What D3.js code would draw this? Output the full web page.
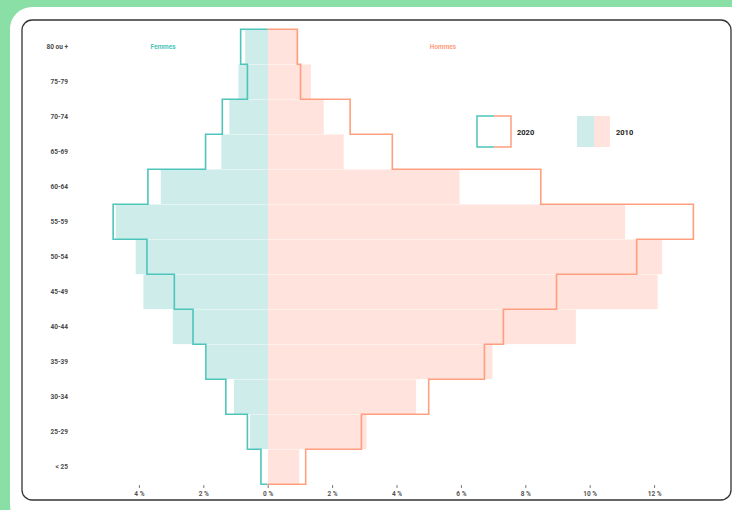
<!DOCTYPE html>
<html>
<head>
<script src="https://d3js.org/d3.v7.min.js"></script>
<style>
    body { margin: 0; background: #89dfa6; }
    svg { display: block; }
    .lbl { font-family: Roboto, sans-serif; font-size: 6.5px; font-weight: bold; fill: #4a4a4a; }
    .axis path { display: none; }
    .axis line { stroke: #777; }
    .axis text { font-family: Roboto, sans-serif; font-size: 6.5px; font-weight: bold; fill: #555; }
</style>
</head>
<body>
<svg width="732" height="510"></svg>
<script>
var ages = ["80 ou +", "75-79", "70-74", "65-69", "60-64", "55-59", "50-54", "45-49", "40-44", "35-39", "30-34", "25-29", "< 25"];
var women2020 = [0.84, 0.63, 1.41, 1.93, 3.72, 4.80, 3.75, 2.90, 2.32, 1.92, 1.30, 0.63, 0.21];
var women2010 = [0.70, 0.91, 1.19, 1.44, 3.32, 4.72, 4.10, 3.86, 2.95, 1.90, 1.05, 0.55, 0.0];
var men2020 = [0.92, 1.02, 2.56, 3.87, 8.48, 13.22, 11.46, 8.97, 7.32, 6.73, 5.00, 2.91, 1.18];
var men2010 = [0.95, 1.34, 1.74, 2.36, 5.96, 11.10, 12.25, 12.11, 9.57, 6.98, 4.61, 3.07, 0.98];
var ticks = [-4, -2, 0, 2, 4, 6, 8, 10, 12];

var teal = "#4ec5bb", salmon = "#ff9f80", tealFill = "#cdecea", salmonFill = "#ffe3dc";

var svg = d3.select("svg");

// card + frame
svg.append("rect").attr("x", 10).attr("y", 7).attr("width", 760).attr("height", 520).attr("rx", 22).attr("fill", "#fff");
svg.append("rect").attr("x", 22).attr("y", 20).attr("width", 709).attr("height", 480).attr("rx", 10)
    .attr("fill", "none").attr("stroke", "#333").attr("stroke-width", 1.3);

var x = d3.scaleLinear().domain([0, 1]).range([267.7, 299.9]);
var y = d3.scaleBand().domain(ages).range([29.3, 484.3]);

// 2010 filled bars
var g = svg.append("g");
g.selectAll(".w10").data(ages).enter().append("rect")
    .attr("x", function (d, i) { return x(-women2010[i]); })
    .attr("width", function (d, i) { return women2010[i] ? x(0) - x(-women2010[i]) + 0.6 : 0; })
    .attr("y", function (d) { return y(d) + 0.2; })
    .attr("height", y.bandwidth() - 0.4)
    .attr("fill", tealFill);
g.selectAll(".m10").data(ages).enter().append("rect")
    .attr("x", x(0) + 0.3)
    .attr("width", function (d, i) { return x(men2010[i]) - x(0) - 0.3; })
    .attr("y", function (d) { return y(d) + 0.2; })
    .attr("height", y.bandwidth() - 0.4)
    .attr("fill", salmonFill);

// 2020 stepped outlines
function steps(vals, sign) {
    var pts = [[x(0), y(ages[0])]];
    ages.forEach(function (a, i) {
        pts.push([x(sign * vals[i]), y(a)]);
        pts.push([x(sign * vals[i]), y(a) + y.bandwidth()]);
    });
    pts.push([x(0), y(ages[ages.length - 1]) + y.bandwidth()]);
    return pts;
}
var line = d3.line();
svg.append("path").attr("d", line(steps(women2020, -1)))
    .attr("fill", "none").attr("stroke", teal).attr("stroke-width", 1.6);
svg.append("path").attr("d", line(steps(men2020, 1)))
    .attr("fill", "none").attr("stroke", salmon).attr("stroke-width", 1.6);

// age labels
svg.selectAll(".lbl").data(ages).enter().append("text")
    .attr("class", "lbl")
    .attr("x", 68)
    .attr("y", function (d) { return y(d) + y.bandwidth() / 2 - 0.5; })
    .attr("dy", "0.35em")
    .attr("text-anchor", "end")
    .text(function (d) { return d; });

// sex titles
svg.append("text").attr("class", "lbl").attr("x", 163).attr("y", 48.5).attr("text-anchor", "middle")
    .style("fill", teal).text("Femmes");
svg.append("text").attr("class", "lbl").attr("x", 443).attr("y", 48.5).attr("text-anchor", "middle")
    .style("fill", salmon).text("Hommes");

// x axis
svg.append("g")
    .attr("class", "axis")
    .attr("transform", "translate(0,485)")
    .call(d3.axisBottom(x).tickValues(ticks).tickSize(3).tickPadding(3.5)
        .tickFormat(function (d) { return Math.abs(d) + " %"; }));

// legend
var lg = svg.append("g").attr("transform", "translate(477,116)");
lg.append("path").attr("d", "M17,0H0V31H17").attr("fill", "none").attr("stroke", teal).attr("stroke-width", 1.5);
lg.append("path").attr("d", "M17,0H34V31H17").attr("fill", "none").attr("stroke", salmon).attr("stroke-width", 1.5);
lg.append("text").attr("class", "lbl").attr("x", 40).attr("y", 16.5).attr("dy", "0.35em")
    .style("font-size", "7.5px").style("fill", "#222").text("2020");
var lg2 = svg.append("g").attr("transform", "translate(577,116)");
lg2.append("rect").attr("width", 17).attr("height", 31).attr("fill", tealFill);
lg2.append("rect").attr("x", 17).attr("width", 16).attr("height", 31).attr("fill", salmonFill);
lg2.append("text").attr("class", "lbl").attr("x", 39).attr("y", 16.5).attr("dy", "0.35em")
    .style("font-size", "7.5px").style("fill", "#222").text("2010");
</script>
</body>
</html>
